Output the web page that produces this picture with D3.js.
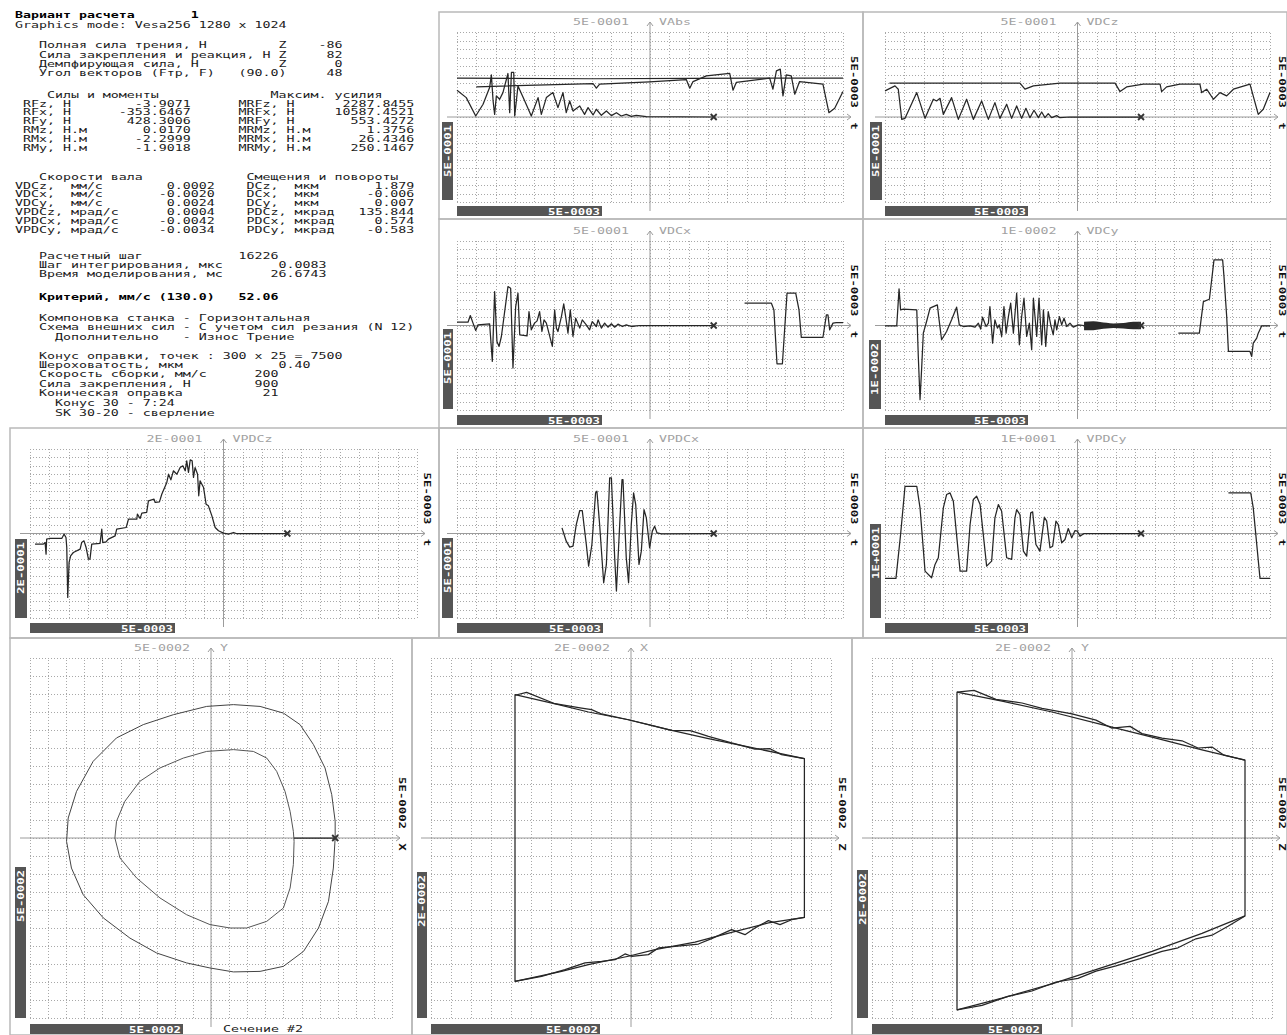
<!DOCTYPE html>
<html><head><meta charset="utf-8">
<script src="https://cdn.jsdelivr.net/npm/d3@7"></script>
<style>
body{margin:0;background:#fff}
svg{display:block;background:#fff}
text{font-family:"DejaVu Sans Mono","Liberation Mono",monospace;white-space:pre}
</style></head><body>
<svg id="c" width="1287" height="1035"></svg>
<script>
// ---- text block values
const variantLabel = 'Вариант расчета', variantNo = '1';
const gfxMode = 'Graphics mode: Vesa256 1280 x 1024';
const loadNames = ['Полная сила трения, Н','Сила закрепления и реакция, Н','Демпфирующая сила, Н','Угол векторов (Fтр, F)'];
const loadAxes = ['Z','Z','Z','(90.0)'];
const loadValues = ['-86','82','0','48'];
const forceHead = ['Силы и моменты','Максим. усилия'];
const forceNames = ['RFz,','RFx,','RFy,','RMz,','RMx,','RMy,'];
const forceUnits = ['Н','Н','Н','Н.м','Н.м','Н.м'];
const forceValues = ['-3.9071','-353.6467','428.3006','0.0170','-2.2999','-1.9018'];
const maxNames = ['MRFz,','MRFx,','MRFy,','MRMz,','MRMx,','MRMy,'];
const maxValues = ['2287.8455','10587.4521','553.4272','1.3756','26.4346','250.1467'];
const speedHead = ['Скорости вала','Смещения и повороты'];
const speedNames = ['VDCz,','VDCx,','VDCy,','VPDCz,','VPDCx,','VPDCy,'];
const speedUnits = ['мм/с','мм/с','мм/с','мрад/с','мрад/с','мрад/с'];
const speedValues = ['0.0002','-0.0020','0.0024','0.0004','-0.0042','-0.0034'];
const dispNames = ['DCz,','DCx,','DCy,','PDCz,','PDCx,','PDCy,'];
const dispUnits = ['мкм','мкм','мкм','мкрад','мкрад','мкрад'];
const dispValues = ['1.879','-0.006','0.007','135.844','0.574','-0.583'];
const stepNames = ['Расчетный шаг','Шаг интегрирования, мкс','Время моделирования, мс'];
const stepValues = ['16226','0.0083','26.6743'];
const criterion = ['Критерий, мм/с (130.0)','52.06'];
const schemeLines = ['Компоновка станка - Горизонтальная','Схема внешних сил - С учетом сил резания (N 12)'];
const extraLine = ['Дополнительно','- Износ Трение'];
const coneHead = 'Конус оправки, точек : 300 x 25 = 7500';
const coneNames = ['Шероховатость, мкм','Скорость сборки, мм/с','Сила закрепления, Н','Коническая оправка'];
const coneValues = ['0.40','200','900','21'];
const coneNotes = ['Конус 30 - 7:24','SK 30-20 - сверление'];

// ---- panel labels
const timeNames = ['VAbs','VDCz','VDCx','VDCy','VPDCz','VPDCx','VPDCy'];
const valueScales = ['5E-0001','5E-0001','5E-0001','1E-0002','2E-0001','5E-0001','1E+0001'];
const timeScale = '5E-0003';
const orbitNames = ['Y','X','Y'];
const orbitScales = ['5E-0002','2E-0002','2E-0002'];
const orbitHScale = '5E-0002';
const orbitLetters = ['X','Z','Z'];
const sectionLabel = 'Сечение #2';

// ---- series, in grid divisions (t: 0..20, value: -10..10)
const markerT = 13.3;
const vabsFlat = [[0,4.57],[7,4.5],[12,4.55],[20,4.57]];
const vabsUpper = [[1.0,3.54],[7.05,3.94],[7.22,3.39],[7.39,3.86],[9.98,4.13],[11.88,4.41],[12.06,3.39],[12.23,4.17],[12.92,4.84],[14.13,5.12],[14.3,3.15],[14.47,4.06],[16.2,4.57],[16.37,3.27],[16.55,5.43],[16.75,5.63],[16.89,2.48],[17.06,4.96],[17.32,4.84],[17.5,2.68],[17.75,4.17],[18.96,3.86],[19.27,0.51],[19.57,1.02],[20,2.99]];
const vabsMain = [[0,3.15],[0.48,2.28],[0.97,0.12],[1.35,1.5],[1.69,3.46],[1.78,4.96],[1.87,1.89],[1.95,0.31],[2.04,2.48],[2.21,2.09],[2.38,2.87],[2.64,5.12],[2.73,0.51],[2.82,5.24],[2.94,5.24],[2.99,0.12],[3.16,3.66],[3.51,1.89],[3.85,0.12],[4.2,2.28],[4.37,0.31],[4.63,2.28],[4.97,2.87],[5.23,1.1],[5.49,2.87],[5.66,0.51],[5.84,1.89],[6.01,0.71],[6.36,1.3],[6.61,0.31],[6.79,1.1],[7.05,0.24],[7.22,0.91],[7.48,0.2],[7.74,0.71],[8.0,0.16],[8.26,0.51],[8.51,0.12],[8.77,0.31],[9.03,0.08],[9.29,0.2],[9.81,0.04],[13.3,0]];
const vdczUpper = [[0.23,3.98],[7.01,3.98],[7.27,3.27],[7.71,3.66],[9.09,3.98],[11.95,3.98],[12.21,2.99],[12.55,3.54],[13.42,3.86],[14.29,3.86],[14.37,2.99],[14.63,3.54],[15.32,3.86],[16.36,3.86],[16.45,2.87],[16.71,3.27],[17.06,2.09],[17.4,2.87],[17.75,2.48],[18.1,3.27],[18.96,3.86],[19.39,0.31],[19.65,0.91],[20,2.87]];
const vdczMain = [[0,3.07],[0.52,3.66],[0.69,3.27],[0.87,-0.28],[1.04,-0.16],[1.65,2.87],[2.08,-0.16],[2.51,2.09],[2.68,1.89],[2.86,2.2],[3.03,0.31],[3.46,2.28],[3.81,-0.28],[4.24,2.09],[4.59,-0.28],[5.02,1.89],[5.37,-0.28],[5.71,1.69],[5.97,-0.16],[6.32,1.5],[6.58,-0.16],[6.84,1.3],[7.1,-0.16],[7.32,1.02],[7.53,-0.08],[7.74,0.79],[7.97,-0.08],[8.14,0.59],[8.31,-0.08],[8.48,0.39],[8.66,-0.08],[8.92,0.16],[9.09,-0.08],[9.61,0],[13.3,0]];
const vdcxMain = [[0,0.39],[0.57,0.39],[0.69,1.18],[0.83,0.28],[0.97,-0.59],[1.09,0.08],[1.69,0.2],[1.83,-4.25],[1.95,4.02],[2.07,-1.89],[2.18,-2.48],[2.3,-1.3],[2.64,4.61],[2.78,4.41],[2.9,-5.04],[3.04,2.24],[3.16,3.82],[3.25,-1.1],[3.63,-1.22],[3.73,1.65],[3.85,-0.51],[4.02,0.28],[4.15,0.55],[4.28,1.65],[4.4,-0.71],[4.51,0.67],[4.63,0.28],[4.94,-2.48],[5.06,1.85],[5.15,-0.31],[5.23,-0.71],[5.41,1.06],[5.53,2.56],[5.63,1.06],[5.75,-0.91],[5.87,1.85],[6.01,-1.3],[6.15,0.87],[6.36,-0.31],[6.49,0.67],[6.7,0.08],[6.87,-0.51],[7.01,0.47],[7.22,-0.12],[7.31,0.67],[7.48,-0.31],[7.65,0.28],[7.82,-0.2],[8.0,0.2],[8.17,-0.2],[8.34,0.16],[8.57,-0.12],[8.77,0.08],[9.03,-0.12],[9.46,0],[13.3,0]];
const vdcxTail = [[14.9,2.64],[16.29,2.64],[16.42,1.85],[16.58,-4.53],[16.86,-4.53],[17.1,3.82],[17.55,3.82],[17.72,1.85],[17.84,-1.42],[18.96,-1.42],[19.14,1.26],[19.22,1.26],[19.31,-0.51],[19.48,0.28],[19.65,0.35],[20,0.35]];
const vdcyMain = [[0,-0.04],[0.61,-0.04],[0.73,4.33],[0.81,1.85],[0.95,1.93],[1.65,1.85],[1.73,-3.66],[1.82,-8.78],[1.9,-5.24],[1.99,-0.91],[2.16,0.47],[2.34,2.05],[2.51,2.24],[2.72,2.44],[2.81,0.67],[2.94,-1.69],[3.2,-0.71],[3.46,0.67],[3.72,2.17],[3.86,0.08],[4.07,-0.12],[4.42,-0.04],[4.68,-0.2],[4.85,0.28],[4.97,-0.43],[5.07,0.98],[5.25,-0.12],[5.37,0.28],[5.45,2.24],[5.59,-2.09],[5.71,0.67],[5.84,-0.31],[5.94,0.08],[6.06,-1.3],[6.18,2.24],[6.29,-0.91],[6.41,1.06],[6.53,2.64],[6.67,-0.91],[6.84,3.82],[6.98,-2.28],[7.1,1.06],[7.22,3.23],[7.36,-1.3],[7.5,0.28],[7.62,-2.87],[7.71,3.23],[7.88,-1.3],[8.0,3.23],[8.14,-2.28],[8.23,1.85],[8.35,-2.48],[8.48,1.65],[8.61,0.08],[8.74,-1.1],[8.83,0.67],[8.92,-0.51],[9.06,1.06],[9.18,0.08],[9.3,0.87],[9.44,-0.12],[9.61,0.28],[9.78,-0.2],[10.04,0.08],[10.34,0]];
const vdcyBand = [[10.34,0.45,-0.55],[10.82,0.5,-0.55],[11.17,0.4,-0.45],[11.86,0.25,-0.3],[12.38,0.3,-0.35],[12.9,0.45,-0.45],[13.3,0.45,-0.45]];
const vdcyTail = [[15.24,-0.91],[16.33,-0.91],[16.54,2.83],[16.85,3.11],[16.97,5.39],[17.09,7.76],[17.54,7.76],[17.61,5.79],[17.75,1.06],[17.84,-3.07],[18.96,-3.07],[19.05,-3.66],[19.13,-2.09],[19.31,-1.5],[19.39,-0.91],[19.57,-0.04],[20,-0.04]];
const vpdczMain = [[0.26,-1.26],[0.69,-1.26],[0.78,-1.07],[0.83,-2.45],[0.86,-0.67],[1.0,-0.59],[1.64,-0.59],[1.76,-0.08],[1.86,-0.47],[1.9,-1.66],[1.95,-7.57],[2.02,-3.43],[2.1,-2.64],[2.24,-2.25],[2.59,-1.85],[2.67,-1.07],[2.79,-0.87],[2.9,-1.66],[3.02,-3.04],[3.1,-3.04],[3.19,-1.26],[3.62,-1.18],[3.71,0.51],[3.76,-1.07],[3.93,-0.99],[4.05,-0.67],[4.4,-0.28],[4.48,0.51],[4.97,0.71],[5.09,1.7],[5.52,1.7],[5.55,2.29],[5.69,1.78],[5.78,2.41],[6.03,2.49],[6.12,3.87],[6.41,4.06],[6.47,3.67],[6.69,3.75],[6.81,4.65],[7.07,6.04],[7.16,7.02],[7.28,6.35],[7.41,7.42],[7.59,7.02],[7.76,7.81],[7.9,8.01],[8.02,7.42],[8.1,8.6],[8.19,7.22],[8.28,8.72],[8.38,8.6],[8.45,6.63],[8.53,7.81],[8.66,7.02],[8.72,4.46],[8.79,6.23],[8.97,5.44],[9.1,3.47],[9.22,3.27],[9.4,2.09],[9.57,0.71],[9.74,0.32],[10.0,0.04],[10.26,-0.08],[10.52,0.12],[10.66,0],[13.3,0]];
const vpdcxMain = [[5.44,0.67],[5.66,-0.91],[5.84,-1.61],[6.01,-1.5],[6.18,1.06],[6.36,2.72],[6.49,2.72],[6.7,-1.3],[6.82,-3.86],[6.99,-1.3],[7.18,4.8],[7.25,5.0],[7.39,1.06],[7.6,-5.83],[7.74,-3.66],[7.91,6.57],[8.0,6.57],[8.17,-2.87],[8.26,-6.81],[8.43,1.06],[8.55,6.38],[8.6,6.38],[8.77,-2.87],[8.89,-5.83],[9.03,1.06],[9.15,4.8],[9.26,3.43],[9.43,-3.66],[9.55,-2.09],[9.69,2.83],[9.81,1.85],[9.98,-1.69],[10.12,0.28],[10.24,0.87],[10.36,0.08],[10.59,-0.04],[13.3,0]];
const vpdcyMain = [[0,-5.31],[0.57,-5.31],[0.81,-0.12],[1.04,5.59],[1.65,5.59],[1.82,3.03],[2.08,-4.45],[2.42,-5.24],[2.6,-3.66],[2.77,-2.87],[3.03,3.03],[3.2,4.61],[3.38,4.8],[3.55,3.82],[3.9,-4.45],[4.24,-4.45],[4.42,1.06],[4.59,4.02],[4.76,4.41],[4.94,3.43],[5.28,-3.86],[5.54,-3.27],[5.71,1.85],[5.89,3.43],[6.06,2.64],[6.32,-2.87],[6.58,-3.07],[6.75,1.85],[6.84,2.83],[7.01,2.24],[7.19,-2.09],[7.36,-2.68],[7.57,2.44],[7.67,2.56],[7.84,-1.3],[8.05,-2.09],[8.28,1.93],[8.4,1.46],[8.57,-1.69],[8.71,-1.5],[8.88,1.46],[9.0,1.06],[9.18,-1.1],[9.35,-0.71],[9.52,0.59],[9.7,-0.51],[9.87,0.35],[9.99,0.28],[10.13,-0.31],[10.34,0],[13.3,0]];
const vpdcyTail = [[17.84,4.8],[19.0,4.8],[19.13,3.03],[19.48,-5.31],[20,-5.31]];

// ---- section plots, in grid divisions (-10..10 both ways)
const orbitOuter = [[1.24,7.41],[2.71,7.31],[4.0,6.94],[4.92,6.3],[5.66,5.19],[6.3,3.89],[6.67,2.41],[6.86,0.93],[6.86,0],[6.76,-1.67],[6.49,-3.52],[5.94,-5.0],[5.11,-6.3],[4.0,-7.13],[2.71,-7.41],[1.24,-7.44],[-0.06,-7.22],[-1.35,-6.94],[-3.0,-6.39],[-4.48,-5.56],[-5.95,-4.44],[-7.06,-3.15],[-7.71,-1.67],[-7.98,-0.19],[-7.89,1.11],[-7.43,2.59],[-6.51,4.26],[-5.22,5.56],[-3.74,6.3],[-2.08,6.85],[-0.24,7.31]];
const orbitInner = [[1.24,4.91],[2.34,4.81],[3.08,4.44],[3.63,3.7],[4.09,2.59],[4.37,1.48],[4.55,0.37],[4.59,-0.19],[4.55,-1.48],[4.37,-2.78],[4.0,-3.89],[3.08,-4.63],[1.97,-5.0],[1.05,-5.0],[-0.06,-4.81],[-1.35,-4.26],[-2.82,-3.33],[-4.11,-2.22],[-5.03,-1.11],[-5.31,0],[-5.22,0.93],[-4.76,2.04],[-3.93,3.15],[-2.82,3.89],[-1.53,4.44],[-0.24,4.81]];
const orbitRadius = [[4.59,0],[6.86,0]];
const coneXTop = [[-5.8,7.96],[-3.63,7.41],[-2.13,7.0],[-0.13,6.57],[1.87,6.02],[3.87,5.52],[5.87,5.06],[8.67,4.41]];
const coneXTopWavy = [[-5.8,7.93],[-5.22,8.09],[-3.8,7.46],[-2.47,7.22],[-1.97,7.13],[-1.47,6.89],[-0.13,6.57],[1.03,6.26],[2.03,5.98],[2.95,5.96],[3.37,5.83],[3.87,5.65],[5.03,5.28],[6.2,4.94],[6.95,4.96],[7.53,4.63],[8.67,4.41]];
const coneXBot = [[-5.8,-7.96],[-3.47,-7.41],[-2.13,-7.04],[-0.13,-6.57],[1.2,-6.2],[3.2,-5.78],[5.03,-5.24],[6.87,-4.72],[8.67,-4.41]];
const coneXBotWavy = [[-5.8,-7.96],[-4.47,-7.69],[-3.3,-7.31],[-2.3,-6.94],[-1.47,-6.85],[-0.8,-6.76],[-0.3,-6.44],[0.03,-6.57],[0.87,-6.48],[1.37,-6.11],[2.2,-6.02],[3.37,-5.89],[4.03,-5.59],[5.03,-5.09],[5.7,-5.37],[6.2,-5.0],[6.87,-4.59],[7.45,-4.81],[8.03,-4.54],[8.67,-4.41]];
const coneYTop = [[-5.75,8.1],[-3.5,7.6],[-1.0,7.0],[1.5,6.3],[4.0,5.6],[6.5,4.9],[8.65,4.33]];
const coneYTopWavy = [[-5.75,8.1],[-4.9,8.2],[-3.8,7.7],[-2.5,7.5],[-1.5,7.2],[0.0,6.9],[1.2,6.55],[2.0,6.1],[2.9,6.2],[3.5,5.8],[4.5,5.55],[5.5,5.4],[6.3,5.0],[7.0,5.05],[7.6,4.6],[8.65,4.33]];
const coneYBot = [[-5.75,-9.55],[-3.5,-8.9],[-1.0,-8.1],[1.5,-7.2],[4.0,-6.3],[6.5,-5.3],[8.65,-4.33]];
const coneYBotWavy = [[-5.75,-9.55],[-4.5,-9.3],[-3.2,-8.8],[-2.0,-8.5],[-0.8,-8.0],[0.3,-7.8],[1.2,-7.4],[2.2,-7.1],[3.4,-6.7],[4.5,-6.3],[5.3,-6.1],[6.2,-5.6],[7.0,-5.4],[7.8,-4.9],[8.65,-4.33]];

const svg = d3.select('#c');
const FS = 9.5;
const SX = 8 / (FS * 0.6021);   // widen glyphs to an 8 px DOS cell
const TX = 15;

function txt(g, str, x, y, o = {}) {
  const size = o.size || FS;
  const t = g.append('text')
    .attr('transform', `translate(${x},${y})` + (o.rot ? ` rotate(${o.rot})` : '') + ` scale(${o.sx || SX},1)`)
    .attr('text-anchor', o.anchor || 'start')
    .attr('font-size', size)
    .attr('font-weight', o.bold ? 'bold' : 'normal')
    .attr('fill', o.fill || '#111')
    .text(str);
  if (o.central) t.attr('dominant-baseline', 'central');
  return t;
}

// put pieces of a line at fixed character columns
function cols(items) {
  let s = '';
  items.forEach(([t, c, a]) => {
    const start = a === 'r' ? c - t.length + 1 : c;
    while (s.length < start) s += ' ';
    s += t;
  });
  return s;
}

// ---- text block
const rows = [];
rows.push({y: 14.5, s: cols([[variantLabel, 0], [variantNo, 22]]), b: true});
rows.push({y: 24, s: gfxMode});
const loadY = [44.5, 54, 63, 72];
loadNames.forEach((n, i) => rows.push({y: loadY[i], s: cols([[n, 3], [loadAxes[i], 33, 'r'], [loadValues[i], 40, 'r']])}));
rows.push({y: 94, s: cols([[forceHead[0], 4], [forceHead[1], 32]])});
forceNames.forEach((n, i) => rows.push({y: 103 + i * 8.9, s: cols([[n, 1], [forceUnits[i], 6], [forceValues[i], 21, 'r'], [maxNames[i], 28], [forceUnits[i], 34], [maxValues[i], 49, 'r']])}));
rows.push({y: 176, s: cols([[speedHead[0], 3], [speedHead[1], 29]])});
speedNames.forEach((n, i) => rows.push({y: 185 + i * 8.9, s: cols([[n, 0], [speedUnits[i], 7], [speedValues[i], 24, 'r'], [dispNames[i], 29], [dispUnits[i], 35], [dispValues[i], 49, 'r']])}));
rows.push({y: 255, s: cols([[stepNames[0], 3], [stepValues[0], 28]])});
rows.push({y: 264, s: cols([[stepNames[1], 3], [stepValues[1], 38, 'r']])});
rows.push({y: 273, s: cols([[stepNames[2], 3], [stepValues[2], 38, 'r']])});
rows.push({y: 296, s: cols([[criterion[0], 3], [criterion[1], 28]]), b: true});
rows.push({y: 317, s: cols([[schemeLines[0], 3]])});
rows.push({y: 326.5, s: cols([[schemeLines[1], 3]])});
rows.push({y: 336, s: cols([[extraLine[0], 5], [extraLine[1], 21]])});
rows.push({y: 355, s: cols([[coneHead, 3]])});
const coneEnd = [36, 32, 32, 32];
coneNames.forEach((n, i) => rows.push({y: 364.5 + i * 9.4, s: cols([[n, 3], [coneValues[i], coneEnd[i], 'r']])}));
coneNotes.forEach((n, i) => rows.push({y: 402.5 + i * 9.5, s: cols([[n, 5]])}));

const tg = svg.append('g');
rows.forEach(r => txt(tg, r.s, TX, r.y + 3.5, {bold: r.b, fill: r.b ? '#000' : '#1a1a1a'}));

// ---- panels
const panels = [
  {frame: [439, 12, 863, 219], grid: [457, 32, 843, 202], lb: [442, 122, 453, 200], bb: [457, 206, 602, 216], rx: 854, type: 't', k: 0,
   series: [{d: vabsFlat}, {d: vabsUpper}, {d: vabsMain}]},
  {frame: [863, 12, 1287, 219], grid: [885, 32, 1270, 202], lb: [870, 122, 882, 200], bb: [885, 206, 1028, 216], rx: 1282, type: 't', k: 1,
   series: [{d: vdczUpper}, {d: vdczMain}]},
  {frame: [439, 219, 863, 428], grid: [457, 241, 843, 410], lb: [443, 329, 453, 409], bb: [457, 415, 602, 425], rx: 854, type: 't', k: 2,
   series: [{d: vdcxMain}, {d: vdcxTail}]},
  {frame: [863, 219, 1287, 428], grid: [885, 241, 1270, 410], lb: [869, 340, 881, 409], bb: [885, 415, 1028, 425], rx: 1282, type: 't', k: 3,
   series: [{d: vdcyMain}, {d: vdcyBand, band: true}, {d: vdcyTail}]},
  {frame: [10, 428, 439, 638], grid: [30, 449, 417, 618], lb: [15, 539, 27, 618], bb: [30, 623, 175, 633], rx: 427, type: 't', k: 4,
   series: [{d: vpdczMain}]},
  {frame: [439, 428, 863, 638], grid: [457, 449, 843, 618], lb: [442, 538, 453, 618], bb: [457, 623, 603, 633], rx: 854, type: 't', k: 5,
   series: [{d: vpdcxMain}]},
  {frame: [863, 428, 1287, 638], grid: [885, 449, 1270, 618], lb: [870, 524, 881, 618], bb: [885, 623, 1028, 633], rx: 1282, type: 't', k: 6,
   series: [{d: vpdcyMain}, {d: vpdcyTail}]},
  {frame: [10, 638, 412, 1035], grid: [30, 658, 392, 1018], lb: [15, 867, 26, 1018], bb: [30, 1024, 183, 1034], rx: 402, type: 'o', k: 0,
   series: [{d: orbitOuter, closed: true, c: '#444', w: 1}, {d: orbitInner, closed: true, c: '#555', w: 1}, {d: orbitRadius}], marker: 6.86},
  {frame: [412, 638, 852, 1035], grid: [431, 658, 831, 1018], lb: [417, 872, 427, 1018], bb: [431, 1024, 600, 1034], rx: 842, type: 'o', k: 1,
   series: [{d: coneXTop.concat(coneXBot.slice().reverse()), closed: true}, {d: coneXTopWavy}, {d: coneXBotWavy}]},
  {frame: [852, 638, 1287, 1035], grid: [872, 658, 1272, 1018], lb: [857, 870, 868, 1018], bb: [872, 1024, 1042, 1034], rx: 1282, type: 'o', k: 2,
   series: [{d: coneYTop.concat(coneYBot.slice().reverse()), closed: true}, {d: coneYTopWavy}, {d: coneYBotWavy}]}
];

const AX = '#9c9c9c';

panels.forEach(p => {
  const g = svg.append('g');
  const [gx0, gy0, gx1, gy1] = p.grid;
  const timeP = p.type === 't';
  const x = d3.scaleLinear().domain(timeP ? [0, 20] : [-10, 10]).range([gx0, gx1]);
  const y = d3.scaleLinear().domain([-10, 10]).range([gy1, gy0]);

  g.append('rect').attr('x', p.frame[0]).attr('y', p.frame[1])
    .attr('width', p.frame[2] - p.frame[0]).attr('height', p.frame[3] - p.frame[1])
    .attr('fill', 'none').attr('stroke', '#b9b9b9').attr('stroke-width', 1.5);

  // dotted grid from axes
  const gxAxis = g.append('g').attr('transform', `translate(0,${gy1})`)
    .call(d3.axisBottom(x).ticks(20).tickSize(-(gy1 - gy0)).tickFormat(''));
  const gyAxis = g.append('g').attr('transform', `translate(${gx0},0)`)
    .call(d3.axisLeft(y).ticks(20).tickSize(-(gx1 - gx0)).tickFormat(''));
  [gxAxis, gyAxis].forEach(a => {
    a.select('.domain').remove();
    a.selectAll('line').attr('stroke', '#a8a8a8').attr('stroke-dasharray', '1,2').attr('shape-rendering', 'crispEdges');
  });

  // main axes
  const cx = x(timeP ? 10 : 0), cy = y(0);
  const axR = gx1 + 8, axT = gy0 - 10;
  g.append('line').attr('x1', gx0 - 10).attr('x2', axR).attr('y1', cy).attr('y2', cy).attr('stroke', AX);
  g.append('line').attr('x1', cx).attr('x2', cx).attr('y1', axT).attr('y2', gy1 + 9).attr('stroke', AX);
  g.append('path').attr('d', `M${axR - 4},${cy - 3}L${axR},${cy}L${axR - 4},${cy + 3}`).attr('fill', 'none').attr('stroke', AX);
  g.append('path').attr('d', `M${cx - 3},${axT + 4}L${cx},${axT}L${cx + 3},${axT + 4}`).attr('fill', 'none').attr('stroke', AX);

  // data
  p.series.forEach(s => {
    if (s.band) {
      g.append('path').datum(s.d)
        .attr('d', d3.area().x(d => x(d[0])).y0(d => y(d[2])).y1(d => y(d[1])).curve(d3.curveMonotoneX))
        .attr('fill', '#2a2a2a');
    } else {
      const ln = s.closed ? d3.line().curve(d3.curveLinearClosed) : d3.line();
      g.append('path').datum(s.d)
        .attr('d', ln.x(d => x(d[0])).y(d => y(d[1])))
        .attr('fill', 'none').attr('stroke', s.c || '#262626').attr('stroke-width', s.w || 1.25)
        .attr('stroke-linejoin', 'round');
    }
  });

  // current position marker
  const mk = timeP ? markerT : p.marker;
  if (mk !== undefined) {
    const mx = x(mk);
    g.append('path').attr('d', `M${mx - 3},${cy - 3}L${mx + 3},${cy + 3}M${mx - 3},${cy + 3}L${mx + 3},${cy - 3}`)
      .attr('stroke', '#333').attr('stroke-width', 1.8);
  }

  // labels
  const vScale = timeP ? valueScales[p.k] : orbitScales[p.k];
  const name = timeP ? timeNames[p.k] : orbitNames[p.k];
  const hScale = timeP ? timeScale : orbitHScale;
  const letter = timeP ? 't' : orbitLetters[p.k];
  txt(g, vScale, cx - 21, gy0 - 7.5, {anchor: 'end', fill: '#a2a2a2'});
  txt(g, name, cx + 9, gy0 - 7.5, {fill: '#a2a2a2'});

  g.append('rect').attr('x', p.lb[0]).attr('y', p.lb[1]).attr('width', p.lb[2] - p.lb[0]).attr('height', p.lb[3] - p.lb[1]).attr('fill', '#555');
  txt(g, vScale, (p.lb[0] + p.lb[2]) / 2, p.lb[1] + 3, {rot: -90, anchor: 'end', bold: true, fill: '#fff', central: true, sx: 1.3});

  g.append('rect').attr('x', p.bb[0]).attr('y', p.bb[1]).attr('width', p.bb[2] - p.bb[0]).attr('height', p.bb[3] - p.bb[1]).attr('fill', '#555');
  txt(g, hScale, p.bb[2] - 2, p.bb[1] + 8.5, {anchor: 'end', bold: true, fill: '#fff', sx: 1.3});

  txt(g, hScale, p.rx, cy - 9, {rot: 90, anchor: 'end', bold: true, fill: '#111', central: true, sx: 1.3});
  txt(g, letter, p.rx, cy + 9, {rot: 90, anchor: 'middle', bold: true, fill: '#111', central: true, sx: 1.3});
});

txt(svg, sectionLabel, 223, 1031.5, {fill: '#222'});
</script>
</body></html>
